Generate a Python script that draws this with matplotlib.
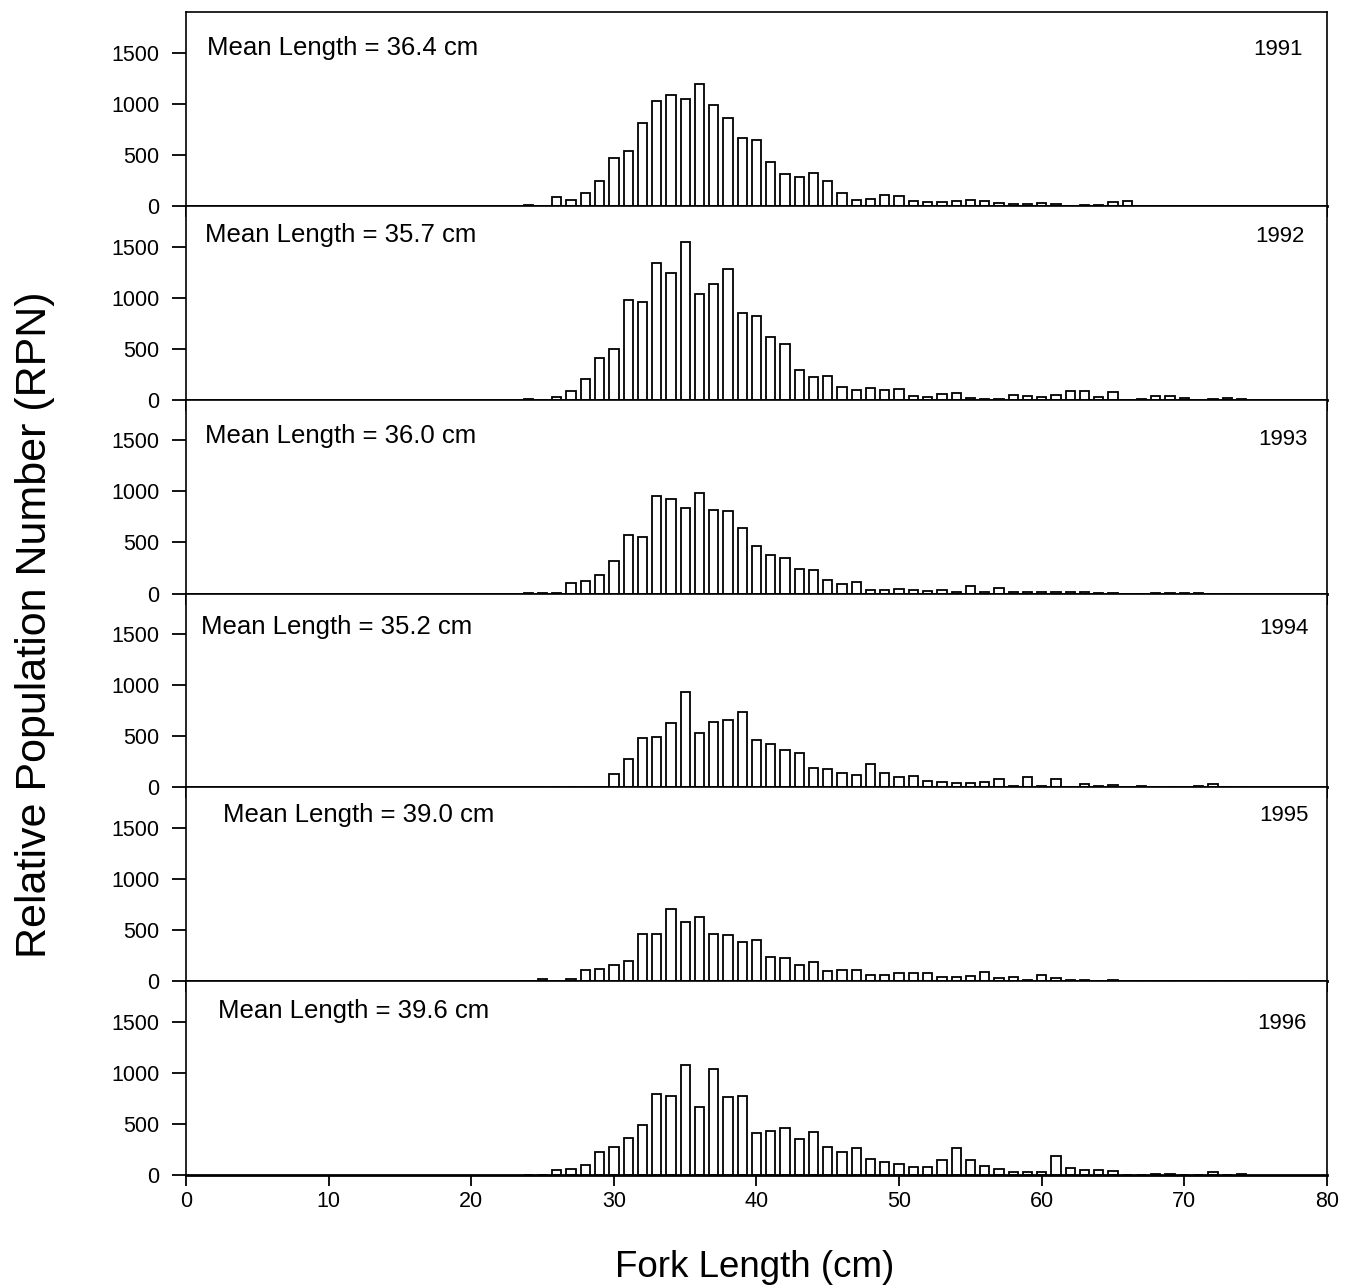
import numpy as np
import matplotlib.pyplot as plt

plt.rcParams['font.family'] = ['Liberation Sans', 'DejaVu Sans']

# fork length bins (cm)
fork_length = list(range(24, 75))

years = ["1991", "1992", "1993", "1994", "1995", "1996"]
mean_lengths = ["36.4", "35.7", "36.0", "35.2", "39.0", "39.6"]

rpn_1991 = [5, 0, 88, 55, 130, 240, 467, 542, 807, 1029, 1088, 1049, 1193, 984, 859, 663, 644,
            425, 310, 278, 323, 245, 121, 56, 62, 105, 95, 50, 35, 40, 45, 55, 50, 30, 20, 20,
            25, 15, 0, 10, 5, 40, 50, 0, 0, 0, 0, 0, 0, 0, 0]
rpn_1992 = [5, 0, 25, 82, 200, 412, 500, 974, 954, 1343, 1242, 1546, 1036, 1134, 1284, 846, 817,
            614, 549, 291, 225, 235, 127, 92, 118, 98, 105, 40, 25, 60, 65, 20, 5, 5, 45, 40,
            30, 45, 85, 85, 25, 80, 0, 10, 35, 35, 20, 0, 10, 15, 5]
rpn_1993 = [5, 5, 5, 105, 118, 186, 323, 578, 552, 957, 931, 843, 984, 820, 804, 640, 464,
            373, 346, 242, 235, 137, 98, 108, 39, 33, 46, 35, 20, 35, 10, 70, 10, 50, 15, 15,
            10, 15, 10, 12, 5, 5, 0, 0, 5, 5, 5, 5, 0, 0, 0]
rpn_1994 = [0, 0, 0, 0, 0, 0, 130, 281, 480, 493, 627, 935, 533, 644, 663, 739, 461,
            422, 363, 337, 193, 176, 141, 118, 229, 137, 105, 114, 65, 55, 42, 40, 50, 80, 16, 100,
            16, 80, 0, 33, 15, 26, 0, 15, 0, 0, 0, 15, 33, 0, 0]
rpn_1995 = [5, 20, 0, 23, 105, 118, 160, 200, 467, 467, 712, 578, 631, 467, 454, 382, 402,
            238, 232, 160, 186, 101, 108, 108, 56, 65, 82, 85, 85, 46, 46, 52, 95, 30, 42, 13,
            62, 30, 7, 7, 0, 13, 3, 0, 0, 0, 0, 0, 0, 0, 0]
rpn_1996 = [0, 0, 49, 59, 98, 229, 271, 359, 490, 795, 772, 1075, 670, 1037, 766, 779, 415,
            435, 458, 353, 425, 271, 229, 268, 157, 124, 105, 75, 75, 152, 265, 152, 91, 59, 33, 33,
            33, 186, 72, 49, 49, 42, 0, 0, 15, 10, 0, 0, 33, 0, 15]

series = [rpn_1991, rpn_1992, rpn_1993, rpn_1994, rpn_1995, rpn_1996]

# label placement (axes fraction) tuned to the original
mean_pos = [(0.018, 0.814), (0.017, 0.85), (0.017, 0.81), (0.013, 0.825), (0.032, 0.856), (0.028, 0.845)]
year_pos = [(0.979, 0.804), (0.980, 0.84), (0.983, 0.794), (0.984, 0.82), (0.984, 0.856), (0.982, 0.784)]

fig, axes = plt.subplots(6, 1, figsize=(13.45, 12.88), dpi=100, sharex=True)
fig.subplots_adjust(left=0.1383, right=0.9866, bottom=0.0877, top=0.9907, hspace=0)

for i, ax in enumerate(axes):
    ax.bar(fork_length, series[i], width=0.65, color="white", edgecolor="black", linewidth=1.3)
    ax.set_xlim(0, 80)
    ax.set_ylim(0, 1900)
    ax.set_yticks([0, 500, 1000, 1500])
    ax.set_xticks(np.arange(0, 81, 10))
    ax.tick_params(axis="both", direction="out", length=8, width=1.3, labelsize=15.5)
    ax.tick_params(axis="y", length=10, pad=9)
    for side in ["top", "left", "right"]:
        ax.spines[side].set_linewidth(1.2)
    ax.spines["bottom"].set_linewidth(2)
    ax.text(mean_pos[i][0], mean_pos[i][1], "Mean Length = " + mean_lengths[i] + " cm",
            transform=ax.transAxes, fontsize=18.5, ha="left", va="center")
    ax.text(year_pos[i][0], year_pos[i][1], years[i],
            transform=ax.transAxes, fontsize=16, ha="right", va="center")

fig.text(0.026, 0.515, "Relative Population Number (RPN)", rotation=90,
         fontsize=31, ha="center", va="center")
fig.text(0.561, 0.016, "Fork Length (cm)", fontsize=26.5, ha="center", va="center")

plt.savefig("out.png", dpi=100)
